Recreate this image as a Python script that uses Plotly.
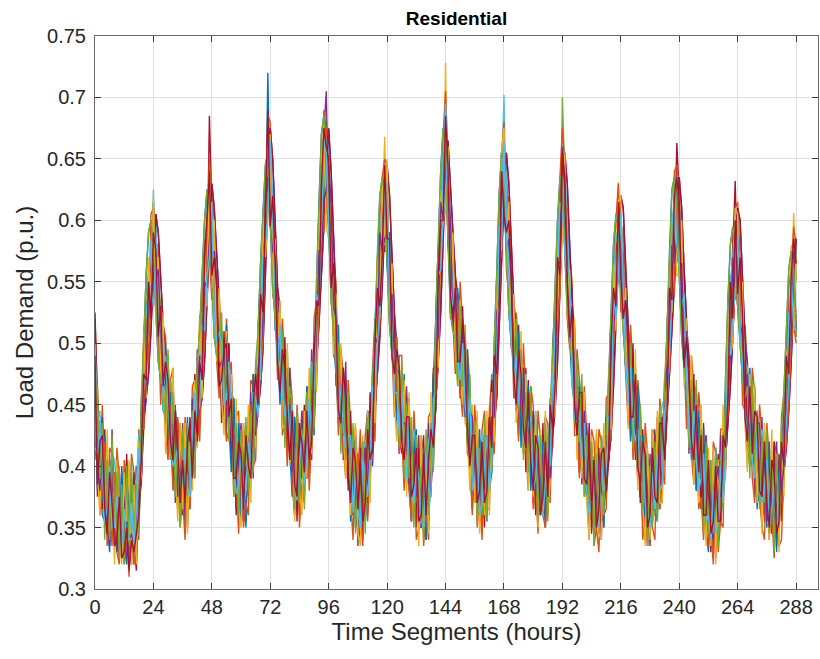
import plotly.graph_objects as go

# ---------------- data (load demand in thousandths of p.u.) ----------------
hours = list(range(289))
x_tick_values = list(range(0, 289, 24))
y_tick_values = [0.30, 0.35, 0.40, 0.45, 0.50, 0.55, 0.60, 0.65, 0.70, 0.75]
title_text = "Residential"
x_label = "Time Segments (hours)"
y_label = "Load Demand (p.u.)"

# central profile, one value per hour (24 per line + last hour)
center_profile = [
    450,420,410,400,385,380,375,385,370,365,370,365,360,365,360,360,365,370,390,420,460,500,530,555,
    570,560,530,500,480,460,450,440,430,415,400,395,395,390,395,405,420,435,450,470,500,540,580,600,
    585,550,520,500,480,475,470,460,440,420,405,395,390,390,395,410,420,435,450,470,510,550,600,645,
    630,590,550,510,490,470,460,450,435,420,405,400,400,405,410,420,430,450,470,510,560,610,640,645,
    630,580,540,500,470,455,450,440,420,400,390,385,380,380,385,390,400,420,440,470,520,560,590,610,
    600,560,520,490,470,450,440,430,420,410,400,395,390,385,380,380,385,390,410,440,480,530,580,630,
    655,620,570,540,520,510,500,490,470,450,430,410,400,395,390,390,395,400,410,430,460,500,560,610,
    640,610,570,530,500,480,470,460,450,440,430,420,410,400,395,390,390,395,400,420,450,490,540,590,
    625,610,570,530,500,470,450,440,430,415,400,390,385,380,380,380,385,395,410,430,470,520,560,585,
    575,550,510,480,465,455,445,425,405,390,385,380,380,385,390,395,405,415,435,470,520,565,590,600,
    590,550,510,480,455,445,435,425,410,400,390,380,375,370,370,370,375,385,400,430,480,520,550,570,
    565,540,500,470,445,435,430,420,410,405,395,390,385,380,380,375,375,380,390,420,460,500,530,550,
    540,
]

# scatter of the individual scenario curves around the central profile
scenario_01 = [
    30,-12,8,-20,15,-25,5,22,-8,-30,12,4,-18,26,-10,-35,8,18,-40,25,-30,35,-15,20,
    -25,40,-30,18,-10,22,-28,5,30,-15,-5,18,-22,10,-35,15,28,-12,20,-30,35,-20,40,-10,
    20,-35,25,-15,8,-20,30,-5,-25,12,-8,25,-30,5,15,-22,30,-10,-18,35,-40,20,-25,75,
    -30,25,-40,30,-12,20,-25,8,15,-30,22,-5,10,-28,35,-12,-20,15,30,-35,25,-30,20,-15,
    35,-20,28,-35,10,-15,25,-30,5,20,-12,-25,30,-8,15,-20,28,-10,-30,20,-45,35,-20,10,
    -15,30,-25,20,-30,12,-8,25,-20,5,30,-15,-28,18,-5,22,-35,10,25,-30,40,-25,30,-20,
    25,-40,30,-20,15,-25,10,-5,28,-30,20,-12,-20,30,-10,15,-25,8,20,-35,30,-45,25,-30,
    -20,35,-30,25,-15,5,22,-28,12,-10,30,-25,15,-5,-30,20,-12,28,-20,35,-25,30,-40,20,
    30,-25,40,-20,10,-30,15,20,-15,-8,25,-30,10,-22,28,-5,-18,30,-10,-25,40,-30,20,-35,
    -10,20,-35,25,-20,15,-5,-28,30,-12,8,22,-30,15,-20,28,-8,-15,25,-30,35,-20,28,-25,
    25,-30,20,-15,30,-20,-8,15,-25,30,-12,5,-28,20,-5,25,-30,12,-20,30,-35,25,-20,15,
    -20,30,-25,35,-10,20,-28,8,-15,25,-30,12,20,-22,-5,30,-18,10,-25,35,-30,20,-25,-10,
    15,
]
scenario_02 = [
    70,40,-15,10,-25,18,-5,30,-20,12,-32,20,8,-15,25,-20,5,-28,15,-35,20,-25,30,-40,
    10,-20,35,-25,15,30,-10,-20,12,25,-18,5,-30,20,8,-25,15,-30,28,-15,-25,30,-35,25,
    -30,20,-10,30,-25,10,18,-15,-30,22,15,-10,25,-20,-8,30,-15,20,-28,-20,25,-30,35,-20,
    25,-15,30,-25,20,-8,-30,15,25,-20,10,-25,30,5,-15,-22,18,-30,-10,25,-35,30,-25,35,
    -20,30,-15,25,-25,18,5,-20,28,-12,-30,15,20,-25,10,-5,-28,22,15,-35,30,-20,25,-30,
    20,-30,35,-10,15,-20,28,-12,10,-25,5,20,-15,30,-22,-8,25,-30,15,20,-35,30,-40,25,
    -35,20,-15,30,-25,10,-20,25,-12,18,-28,30,5,-15,25,-30,12,-20,28,15,-25,35,-30,20,
    30,-20,25,-35,20,-15,8,30,-25,15,-5,-20,28,-12,22,-30,10,-15,25,-28,-20,35,-25,30,
    -25,35,-20,15,-30,25,-10,-15,20,30,-25,10,-20,28,-15,5,25,-30,15,-10,-30,25,-35,20,
    20,-25,30,-15,10,-28,25,15,-20,-10,28,-22,12,-30,20,-8,15,25,-30,-20,30,-35,20,-25,
    -15,28,-30,25,-20,10,25,-15,-22,18,5,-28,30,-12,15,-25,20,-8,28,-25,30,-20,35,40,
    25,-20,30,-15,20,-25,10,-30,25,-5,18,-22,-10,28,-20,15,-28,25,-12,-30,25,-35,30,-20,
    -25,
]
scenario_03 = [
    -20,25,-30,12,5,-18,28,-10,20,-25,15,-5,30,-20,10,25,-15,-30,20,-10,-35,15,25,-20,
    30,-15,10,25,-30,15,20,-25,-10,28,-20,12,20,-30,15,-10,25,-20,-15,28,-25,20,-30,30,
    15,25,-20,-10,30,-22,8,25,-18,-30,20,-12,28,-5,-25,15,-8,25,-30,20,-15,35,-30,25,
    -20,30,-15,20,25,-30,15,-10,-25,20,-8,30,-20,12,-28,25,10,-15,-25,20,30,-25,35,-30,
    20,-25,15,30,-20,-10,25,-28,15,10,-20,28,-12,-25,30,-15,5,-22,25,-20,25,-30,20,58,
    -25,20,-30,15,25,-15,-22,20,-8,30,-25,10,15,-28,22,-10,-20,28,-5,-25,30,-20,25,-35,
    73,-25,20,-30,10,25,-15,-20,30,-10,15,-28,22,-5,-20,28,-15,25,-30,10,-25,30,-20,35,
    -25,30,-15,20,-28,12,25,-20,-8,30,-22,15,-10,25,-30,18,-5,-22,28,-15,20,-30,35,-25,
    20,-30,25,-20,15,25,-25,-8,20,-15,30,-10,-22,15,28,-20,10,-25,22,-30,25,-20,30,46,
    -30,15,-20,30,-12,-25,20,10,-28,25,-15,20,-5,-30,22,15,-20,28,-10,-25,30,-15,25,-30,
    25,-25,15,-30,20,15,-20,28,-10,-25,20,-15,30,-8,-20,25,10,-28,20,-15,-30,25,-20,30,
    -15,25,-35,20,-25,30,-10,15,-20,28,-12,-25,20,10,-30,22,-8,25,-20,15,-25,30,-20,56,
    10,
]
scenario_04 = [
    15,-30,20,-10,-25,30,-15,8,25,-20,-10,28,-22,15,-30,12,20,-25,10,-30,25,-20,15,-25,
    -30,20,-25,-15,25,-20,10,28,-25,15,20,-15,-28,22,10,-20,-25,30,-10,20,-30,25,-20,-30,
    25,-10,-30,22,-15,28,-20,10,30,-25,-12,20,-5,-28,25,-15,20,15,-30,25,-35,30,-25,-25,
    20,-30,15,-25,30,10,-20,-15,25,-8,-22,30,-15,20,-5,-28,25,-12,20,-30,20,-25,30,60,
    -25,25,-20,15,-30,20,-12,25,-20,-28,15,-10,25,-18,-25,30,-15,12,-20,25,-30,20,-35,25,
    30,-20,15,-30,20,-10,25,-25,15,-20,-12,28,-8,-22,30,-15,10,-28,20,-15,30,-35,20,-25,
    -20,30,-28,15,-15,30,-25,10,-20,25,-8,-22,28,-15,12,-30,25,-10,-25,20,-30,25,-35,-20,
    25,-25,20,-10,30,-20,-12,25,-28,10,20,-30,15,-18,25,-10,-28,20,-15,30,-35,20,-25,35,
    -30,20,-15,30,-20,-10,28,-25,12,20,-30,15,-10,-25,20,-28,15,30,-20,25,-25,30,-20,-25,
    25,-30,20,-10,-25,28,-15,20,-30,15,-5,-20,25,-12,30,-25,-8,20,-28,25,-30,20,-25,25,
    -20,20,-28,-10,25,-30,15,-20,28,-8,-25,20,-15,30,-20,10,-25,28,-10,-20,25,-30,28,-30,
    30,-30,20,-25,15,-10,25,-20,-28,15,25,-20,-8,-25,30,-15,20,-30,15,25,-35,25,-30,-20,
    -15,
]
scenario_05 = [
    -15,20,25,-30,10,-20,30,-25,5,20,-28,15,-10,-22,28,-8,-25,30,-10,15,-25,30,-30,25,
    25,-25,20,30,-20,-15,25,-10,-28,20,10,-30,15,-8,25,-25,-10,20,-28,-10,20,-25,30,-35,
    -25,30,-15,25,-28,15,-10,-25,20,30,-15,-28,12,25,-20,10,-30,-15,25,-25,30,-20,-30,30,
    30,-20,25,10,-30,15,-25,28,-10,-20,25,-12,-25,18,20,-30,8,25,-20,15,-30,25,-20,-25,
    -15,20,-30,-20,25,-28,15,10,-25,28,-10,-20,30,-15,-8,25,-25,15,28,-30,20,-25,30,-30,
    25,-25,20,25,-15,28,-20,-10,25,-30,15,-15,-25,20,10,-25,28,-20,-15,25,-30,25,-20,30,
    -25,25,-20,-25,30,-15,20,-28,10,25,-22,-10,20,-30,15,25,-20,-12,30,-25,25,-30,30,-25,
    20,-30,30,-20,10,25,-28,15,-15,-25,20,-10,30,-25,-10,28,-15,22,-30,-10,30,-25,20,-30,
    75,25,-30,10,-25,20,-10,30,-20,-15,28,-25,15,-10,-22,30,-20,10,-15,30,-35,25,-25,25,
    -20,30,-15,25,20,-20,-28,15,25,-10,-25,30,-15,20,-25,-10,28,-20,15,-28,25,-20,-30,30,
    30,-20,25,-25,-15,28,-10,-25,15,25,-30,10,20,-25,28,-15,-20,25,-30,20,-20,30,-30,-20,
    -25,20,-20,30,-30,15,20,-25,10,-30,25,-15,28,-10,-25,20,25,-20,-28,15,30,-25,25,-30,
    20,
]
scenario_06 = [
    10,35,-25,20,-15,30,-20,-10,25,-25,20,-8,-28,15,25,-20,-10,28,-20,30,-20,-30,35,-15,
    55,-30,15,-20,25,-10,-25,20,15,-30,25,-15,10,-25,20,30,-20,-10,25,-25,30,-30,20,25,
    -20,15,30,-25,10,-15,25,-20,-10,28,-25,15,-20,30,-10,-28,20,25,-20,-15,35,-25,25,-30,
    20,-25,-15,30,-20,25,-10,-25,28,10,-20,25,-28,-5,20,30,-22,-15,25,-20,-25,35,-30,20,
    -30,20,25,-20,15,-25,30,-15,-20,25,-10,-28,20,15,-25,10,-20,30,-15,-25,30,-20,35,-20,
    25,-15,-25,30,-20,20,-15,25,-28,10,20,-25,25,-10,-28,15,20,-25,-10,30,-20,-30,25,30,
    -30,20,25,-15,-20,25,-30,15,20,-25,10,25,-20,-28,15,-10,30,-20,-15,25,-30,30,-25,20,
    62,-20,-25,30,-15,-20,25,-10,25,-30,15,-20,-25,20,30,-25,10,-20,25,-15,-30,25,30,-20,
    -25,30,20,-30,25,-15,-20,28,-25,15,-10,25,20,-30,-10,25,-25,15,-20,20,30,-25,-30,20,
    20,-20,-30,25,-15,30,-10,-25,20,15,-30,-8,25,-20,-15,30,-25,-10,20,25,-25,-20,30,-35,
    -20,25,-15,30,-25,-10,20,25,-20,-30,15,25,-10,-25,20,-20,15,-30,25,-15,25,-25,-15,25,
    20,-30,25,-10,25,-20,-15,30,-25,10,-20,30,-25,15,25,-30,-10,20,-15,-25,20,-20,35,25,
    30,
]
scenario_07 = [
    75,20,-30,-15,25,-20,15,-30,20,-10,25,-28,15,-20,-30,20,-25,-55,-15,25,-25,20,-35,30,
    -30,25,-20,-30,20,15,-25,30,-15,-25,20,-10,25,-28,-15,25,-20,15,-30,25,-20,35,-25,85,
    25,-25,20,15,-30,25,-15,20,-25,-10,30,-20,-15,25,-30,15,25,-20,10,-30,25,-35,30,-35,
    -25,20,30,-20,25,-30,15,-20,-10,28,-25,-15,25,-25,10,20,-30,15,-25,25,-30,20,-35,30,
    25,-30,-20,25,-15,-25,30,-20,15,-15,28,-25,-10,-30,20,-20,25,-25,30,15,-35,-25,25,-35,
    -25,30,-20,-25,30,-25,15,-30,25,-20,-30,20,10,-25,25,-20,15,25,-30,-25,25,30,-30,20,
    30,-35,-20,25,-30,20,15,-30,-25,20,-15,28,-30,20,-25,-15,25,-30,10,25,-30,-20,30,-30,
    -30,25,-25,-20,30,-28,20,-15,-25,25,-20,15,-30,25,-15,-25,30,-20,-25,25,25,-30,-20,30,
    25,-30,25,30,-25,-20,25,-30,20,-25,15,-20,-30,25,-20,10,-30,-20,25,-25,-20,30,25,-30,
    -25,25,-30,-20,30,-25,20,25,-30,-20,25,-30,15,25,-30,-20,25,-30,-15,30,-30,25,-20,63,
    30,-25,30,-30,-20,25,-30,-15,30,-20,-25,20,-30,25,-25,30,-20,-25,20,-30,30,-25,25,62,
    -30,25,-25,20,-30,-20,30,-30,20,-25,15,-30,25,-20,-30,25,-25,30,-20,-30,25,30,-30,30,
    -30,
]
scenario_08 = [
    -35,-10,20,5,-30,-15,25,-35,-20,10,-15,-30,5,-25,-20,10,-30,-5,25,-20,10,-25,20,-10,
    -40,10,-15,25,-25,30,5,-20,-30,-10,15,-20,-5,25,-15,-30,10,25,-10,-20,15,-30,-25,-30,
    30,-30,-20,10,20,-25,-15,25,5,-20,-28,-10,20,-25,-15,10,-20,25,5,-30,-25,20,-20,-40,
    35,10,-20,-30,25,-10,-20,5,-15,30,-20,-28,5,20,-25,-15,25,-20,-5,30,-30,-20,25,10,
    -35,-20,15,25,-30,10,-20,-25,5,25,-28,10,-15,-30,20,5,-25,-15,25,-10,-20,-35,-25,15,
    30,-25,-10,-30,-10,-25,20,-15,-30,25,-10,-25,15,5,-25,-30,25,-10,-35,15,-20,25,-20,-30,
    -30,30,-25,-10,20,-25,-30,10,-20,-15,25,-30,-10,20,-30,-20,5,25,-30,-25,20,-20,35,-35,
    25,-20,-15,-30,-25,10,-20,25,-30,-20,5,20,-30,-10,25,-25,-30,-10,20,-20,25,-30,20,25,
    -20,-35,-10,25,-20,-30,-15,5,-25,20,-20,-30,-10,15,-25,-30,20,-15,-25,10,-30,20,-40,-30,
    30,-10,-25,-30,15,-20,-25,5,-20,25,-15,-25,-30,10,-25,15,-25,-30,10,-20,-30,-30,30,-20,
    -25,-20,30,-10,-25,-30,10,-20,-30,-10,20,-25,-15,-30,10,-25,-20,15,-30,-25,15,-30,-25,-30,
    25,-30,-15,-25,-20,10,-25,-30,15,-20,-25,-10,20,-30,-15,10,-25,-20,25,-20,-25,-30,25,-35,
    -30,
]
scenario_09 = [
    50,15,35,-5,30,20,-10,25,35,10,-5,30,20,5,35,-10,25,15,35,10,-20,25,10,30,
    -15,35,20,-10,30,25,35,10,20,30,-5,25,35,15,-10,30,20,5,35,20,10,-15,30,20,
    -10,30,15,25,-15,30,25,-5,20,35,10,25,-5,30,20,25,-10,35,15,25,-20,15,20,15,
    25,30,10,-20,35,15,25,30,-5,20,35,10,25,-10,30,20,15,35,-5,25,15,-20,30,20,
    30,-10,35,20,15,30,-5,25,30,10,20,35,-10,25,15,30,20,-5,35,20,-10,30,25,30,
    -20,25,30,10,35,20,-5,30,25,15,-10,35,20,30,10,25,-5,30,20,35,10,25,-15,25,
    40,20,35,-10,25,30,15,-5,35,20,25,10,30,-5,25,35,20,15,-10,30,25,-20,30,10,
    30,20,-15,35,25,10,30,-5,20,35,15,25,-10,30,20,10,35,25,-5,30,-15,25,30,20,
    -15,25,35,10,30,-5,25,20,35,15,-10,30,25,10,35,20,-5,30,15,35,-15,25,30,-10,
    30,15,25,35,-10,25,30,15,-5,35,20,25,10,30,15,-5,25,35,20,15,-20,30,25,15,
    20,35,-10,25,30,15,20,35,-5,25,30,10,25,35,15,-10,30,20,25,10,-15,30,20,35,
    -10,30,25,15,35,20,-5,25,30,15,35,10,25,-5,30,20,35,15,-10,25,-20,25,-15,30,
    20,
]
scenario_10 = [
    -5,-25,10,-35,-15,20,-30,-20,5,-35,-10,15,-25,-30,5,-20,-35,-15,10,-25,-20,5,-30,-25,
    -20,-30,-10,15,-25,-35,5,-20,-30,-15,10,-35,-20,5,-30,-15,-25,10,-35,-20,5,-30,-25,10,
    -35,-10,-25,5,-30,-20,-35,15,-15,-25,-30,5,-20,-35,-10,-25,5,-30,-20,15,-35,-25,-30,-15,
    -25,5,-30,-20,-10,-35,5,-25,-15,-30,10,-20,-35,-10,-25,5,-30,-20,-15,-35,-25,5,-30,-20,
    -10,-35,-20,5,-30,-25,-10,-35,15,-20,-30,-15,-25,10,-35,-20,-10,-30,5,-25,-15,-30,-20,-25,
    -30,-15,-35,5,-20,-30,-10,-25,-35,5,-20,-30,-15,-25,10,-35,-20,-30,5,-25,-20,-35,-10,-30,
    -25,-35,5,-20,-30,-15,-25,10,-35,-20,-10,-30,-25,5,-35,-15,-25,-10,-30,15,-20,-30,-25,-15,
    -35,-10,-30,-20,5,-25,-35,-15,-20,10,-30,-25,-10,-35,5,-20,-30,-15,-25,5,-35,-20,-30,-10,
    -20,-25,-35,-15,-10,-30,5,-20,-35,-25,10,-15,-30,-20,-35,5,-25,-10,-30,-20,-15,-35,-25,-20,
    -30,5,-25,-35,-15,-20,-30,10,-25,-35,-15,-20,5,-30,-25,-35,-10,-20,-30,5,-25,-35,-20,-30,
    -15,-30,-20,5,-35,-25,-10,-30,-20,-35,5,-25,-15,-30,-10,-20,-35,-25,5,-30,-20,-15,-30,-20,
    -25,-20,-35,-10,-30,5,-25,-15,-35,-20,-10,-30,-25,5,-35,-20,-30,-15,-25,-35,-10,-20,-30,-25,
    -20,
]
scenario_11 = [
    20,-20,-30,15,-10,-30,-40,10,-20,-35,-15,-25,-10,-40,-20,-15,-30,-10,-25,10,-15,-35,20,-30,
    -25,-10,30,15,-20,10,25,-15,5,20,-25,-5,15,-20,10,-30,5,-20,15,20,-15,10,-35,-15,
    -15,25,35,-20,5,15,-10,30,-15,5,-25,10,30,-10,5,-20,15,-5,-25,10,-20,-30,15,-10,
    -35,-15,20,-10,15,25,5,-20,15,-25,10,20,-10,25,-20,5,-15,25,-10,-5,15,-35,-25,-20,
    15,35,-10,20,-15,10,-25,15,-10,20,5,-20,15,-25,10,25,-20,5,-15,35,-20,30,-15,-25,
    -10,-30,20,-15,10,25,-20,5,15,-25,20,-5,30,-15,5,-20,25,10,-30,-10,15,-25,35,-30,
    -20,15,30,-30,20,-5,-15,20,5,-20,15,30,-10,5,-25,20,-15,25,-5,10,-20,25,-25,30,
    -10,-35,15,20,-20,30,10,-15,25,-20,-10,25,5,-25,15,-20,20,-25,10,-30,15,-15,25,-25,
    35,15,-20,-30,20,5,-25,15,-10,30,-20,-25,20,10,-15,25,-5,-20,15,-25,20,-10,-20,-30,
    15,-20,25,10,-30,15,5,-25,20,-15,30,-10,-20,25,-5,-25,15,-30,25,10,-30,15,-25,-15,
    -30,15,-20,30,10,-20,25,5,-15,20,-20,30,-25,10,-30,15,25,-10,-20,25,-25,-30,20,-25,
    20,-35,15,-20,30,-25,5,-15,25,30,-20,15,-30,-15,20,-30,10,25,-10,-20,-25,-10,-25,25,
    25,
]
scenario_12 = [
    -25,-15,25,-35,20,10,-15,25,-5,-15,30,-25,-20,10,-15,25,-10,20,-30,35,-10,40,25,-25,
    -15,30,25,-20,35,-10,20,30,-5,10,25,-10,30,5,-20,20,25,-15,10,30,25,-15,35,-20,
    15,-20,30,25,-10,30,5,20,-15,35,10,-15,25,30,-10,15,25,-5,30,20,-15,40,-10,20,
    -15,35,-25,15,30,5,25,-20,30,15,-5,25,10,-15,35,25,-10,20,-15,30,-20,30,25,-40,
    30,-15,25,-25,20,30,-10,15,25,-20,30,5,-20,25,10,30,-15,20,35,-10,25,-15,30,20,
    -25,15,30,-20,25,-10,30,15,-15,25,20,-5,30,-20,25,10,-15,30,-20,35,-15,20,-25,35,
    15,-30,25,30,-15,20,25,-10,30,-5,25,15,-15,30,20,-20,25,10,-10,30,-20,25,30,-10,
    25,-15,35,-25,20,15,-20,30,10,-5,25,30,-15,20,-10,25,30,-15,20,15,-20,30,25,-20,
    30,20,-25,35,-15,25,10,-20,30,25,-10,20,30,-15,25,-5,20,30,-10,25,-20,35,-20,-30,
    15,-25,30,20,-15,30,-10,25,15,-20,30,10,-25,30,20,-10,25,-20,30,15,-25,20,35,-20,
    -20,30,-10,25,30,-15,20,30,-5,25,15,-20,30,25,-15,20,30,-10,25,-20,35,-15,20,-35,
    35,-20,30,25,-15,20,30,-10,25,15,-20,30,20,-15,30,-5,25,20,-20,30,-20,-20,20,-30,
    35,
]
scenario_13 = [
    -30,10,-20,-40,-30,15,-35,-20,10,-30,-25,-40,20,-10,-35,-25,-10,-40,-35,-25,30,-15,-40,-20,
    45,-20,-30,10,-35,-20,-15,-30,25,-20,-35,-10,-25,-35,15,-25,-30,-20,-10,-25,-35,10,-30,-20,
    -40,-15,-25,-35,15,-30,-20,-10,-35,-25,10,-30,-35,-20,5,-30,-25,-35,-20,-10,-40,-15,-25,30,
    -15,-35,-20,-25,10,-30,-35,-15,-25,-30,-10,-35,-20,-25,10,-30,-35,-20,-15,-25,-40,-25,-30,35,
    -20,-10,-35,-25,-30,-20,-10,-35,-30,-25,5,-35,-20,-30,-15,-35,-25,-20,10,-30,-25,-40,-30,-10,
    -35,-25,-15,-30,-20,-35,-25,-10,-30,-25,-35,-15,-20,-35,-30,-10,-25,-35,-20,-15,-35,-25,-45,-20,
    -10,-25,-35,-20,-30,-10,-35,-25,-15,-30,-35,-25,-10,-30,-20,-35,-25,-15,-30,-35,-25,-40,-20,-30,
    -25,-35,-20,-30,-15,-35,-25,-20,-30,-10,-35,-25,-30,-15,-35,-20,-25,-35,-10,-30,-25,-35,-30,-15,
    -35,-15,-30,-25,-35,-20,-10,-30,-35,-25,-15,-30,-20,-35,-25,-10,-30,-35,-20,-25,-40,-20,-35,-25,
    -20,-35,-25,-15,-30,-35,-20,-30,-10,-35,-25,-20,-35,-15,-30,-25,-35,-20,-30,-10,-35,-25,-30,-15,
    -30,-20,-35,-25,-10,-30,-35,-25,-20,-30,-15,-35,-25,-30,-20,-35,-10,-30,-25,-35,-30,-20,-35,-25,
    -20,-35,-15,-30,-25,-35,-20,-10,-30,-35,-25,-15,-35,-20,-30,-25,-35,-10,-30,-25,-40,-35,-20,-15,
    -20,
]
scenario_14 = [
    40,-35,10,25,-20,-35,20,-15,-35,-25,5,-40,-30,-15,-45,-20,-35,-25,-30,-15,15,-30,20,-35,
    20,15,-25,30,-15,25,20,-20,-25,30,15,-25,10,-20,25,30,-30,10,-25,15,-30,30,20,40,
    -30,20,25,-35,-10,20,30,-20,15,-30,-15,25,20,-25,30,-10,-30,15,25,-20,30,-25,20,45,
    -35,30,15,-25,-30,25,20,-10,-30,25,-20,-25,30,15,-15,25,-25,-30,20,25,-30,15,35,15,
    20,-35,25,20,-25,-20,30,15,-25,-30,25,20,-15,25,-30,-20,30,-15,-25,30,25,-30,-20,35,
    -15,25,-30,-15,25,30,-20,-25,20,30,-25,-10,25,-30,-20,30,-25,15,20,-25,-30,25,20,-30,
    30,25,-30,-20,25,-25,-15,30,25,-20,-30,15,25,-25,-10,30,-25,-20,30,-15,30,-25,-35,30,
    -35,-20,30,25,-25,-30,25,15,-20,-25,30,-15,-30,25,20,-30,-15,25,-25,30,-20,-25,30,-35,
    30,25,-20,-25,30,-20,-25,20,30,-25,-15,30,-20,25,-30,-15,25,20,-30,-20,30,25,-30,30,
    -20,-30,25,30,-25,-15,30,-25,-20,30,25,-30,-20,30,-15,-25,30,20,-30,-25,25,-30,30,35,
    25,-20,-30,25,20,-25,-30,25,-15,25,-30,-20,30,-25,-15,30,-20,-30,25,-15,-25,30,-30,30,
    -25,30,20,-30,-25,30,-20,25,30,-25,-20,30,-15,-30,25,20,-30,-25,30,-20,30,-25,25,35,
    25,
]
# curves that rise and fall early
scenario_15 = [
    35,-40,15,-30,40,-20,-45,25,-35,10,-40,30,-25,-45,20,-35,15,-40,-10,30,40,55,60,45,
    10,-35,-45,-30,-15,40,-30,20,-45,35,-20,-40,30,-15,45,-35,10,-40,25,40,55,60,45,10,
    -35,-45,-30,-15,30,-40,45,-25,-45,35,-10,40,-35,20,-45,30,-20,40,-30,40,55,60,45,10,
    -35,-45,-30,-15,-40,25,-30,45,-20,-45,35,15,-40,30,-25,45,-35,10,-45,40,55,60,45,10,
    -35,-45,-30,-15,45,-30,20,-40,35,-45,10,40,-25,-40,30,-15,45,-35,20,40,55,60,45,10,
    -35,-45,-30,-15,-40,30,-20,45,-35,25,-45,15,40,-30,-10,35,-45,20,-25,30,40,55,60,45,
    10,-35,-45,-30,-15,35,-40,20,-30,45,-25,-45,30,-15,40,-35,15,-40,25,-20,40,55,60,45,
    10,-35,-45,-30,-15,-30,40,-45,25,-20,35,-40,10,45,-35,-15,30,-45,20,-25,40,55,60,45,
    10,-35,-45,-30,-15,45,-30,25,-40,35,-20,-45,30,-10,40,-35,20,-45,15,40,55,60,45,10,
    -35,-45,-30,-15,-45,25,-30,40,-20,35,-40,15,-35,45,-25,-40,30,-10,20,40,55,60,45,10,
    -35,-45,-30,-15,30,-40,20,-45,35,-15,40,-30,-45,25,-20,45,-35,10,-30,40,55,60,45,10,
    -35,-45,-30,-15,-30,45,-20,35,-45,15,-40,30,-25,40,-35,20,-45,25,-15,40,55,60,45,10,
    -35,
]
# curves that rise and fall late
scenario_16 = [
    -40,35,-25,40,-15,30,-35,45,-20,25,-45,35,-10,40,-30,20,-45,30,-20,-35,-25,-45,-55,-45,
    -15,45,60,50,35,-20,40,-35,25,-45,30,-15,40,-30,20,-40,35,-25,45,-25,-45,-55,-45,-15,
    45,60,50,35,-30,25,-45,40,-20,35,-40,15,45,-35,20,-25,40,-45,30,-25,-45,-55,-45,-15,
    45,60,50,35,20,-40,35,-30,45,-15,-45,30,-25,40,-35,25,-20,45,-40,-25,-45,-55,-45,-15,
    45,60,50,35,-35,30,-20,45,-40,25,-30,40,-45,20,35,-25,45,-15,-40,-25,-45,-55,-45,-15,
    45,60,50,35,30,-40,25,-35,45,-20,-45,35,-15,40,-30,20,-40,45,-25,35,-25,-45,-55,-45,
    -15,45,60,50,35,-40,25,-30,45,-20,35,-45,15,40,-35,-20,30,-45,25,-30,-25,-45,-55,-45,
    -15,45,60,50,35,35,-45,20,-30,40,-25,45,-40,15,-35,30,-20,45,-40,20,-25,-45,-55,-45,
    -15,45,60,50,35,-30,40,-45,25,-20,35,-40,30,-15,45,-35,20,-45,30,-25,-45,-55,-45,-15,
    45,60,50,35,25,-40,35,-25,45,-35,15,-45,30,-20,40,-30,20,-45,35,-25,-45,-55,-45,-15,
    45,60,50,35,-45,30,-20,40,-35,25,-40,45,-15,30,-45,20,-30,40,-25,-25,-45,-55,-45,-15,
    45,60,50,35,40,-30,25,-45,35,-20,45,-35,15,-40,30,-25,45,-30,20,-25,-45,-55,-45,-15,
    45,
]
scenario_17 = [
    45,-20,-50,30,-40,50,-35,10,-50,40,-25,-45,35,-10,45,-40,20,-50,30,-30,50,-45,40,-20,
    50,-45,40,-30,45,-50,25,-35,50,-20,-45,40,-30,45,-50,15,-40,35,-25,50,-45,30,-50,40,
    -40,50,-35,45,-25,-50,40,-20,35,-45,50,-30,-40,45,-15,40,-50,25,-35,45,-40,50,-30,-45,
    40,-50,35,-20,45,-40,-25,50,-35,30,-50,40,-20,-45,35,-30,50,-40,20,-50,45,-30,40,-50,
    -45,35,-50,40,-30,45,-20,-50,35,-40,25,50,-35,-45,40,-25,45,-50,30,-35,50,-40,45,-30,
    50,-30,45,-40,-50,35,-25,40,-45,50,-20,-40,35,-50,45,-30,20,-45,50,-35,40,-50,45,-25,
    -50,40,-35,50,-25,-45,35,-40,45,-20,-50,40,-30,50,-45,25,-35,45,-50,30,-40,50,-35,45,
    35,-50,45,-30,40,-45,-20,50,-40,35,-50,25,-35,45,-45,40,-25,50,-40,-30,45,-50,40,-35,
    -40,45,-50,30,-35,50,-45,20,-40,45,-30,-50,40,-25,50,-35,-45,40,-20,50,-40,45,-50,30,
    45,-40,35,-50,25,-30,50,-45,40,-20,-50,35,-40,45,-25,50,-35,-45,40,-30,50,-40,35,-45,
    -35,50,-45,40,-30,45,-50,25,-40,50,-20,-45,40,-35,45,-50,30,-25,50,-40,45,-30,-50,40,
    40,-45,50,-35,-50,40,-25,45,-40,30,-50,45,-20,-40,50,-35,25,-50,40,-45,35,-30,50,-40,
    30,
]
scenario_18 = [
    30,-45,20,-35,45,-25,-40,35,-15,40,-45,25,-30,45,-20,-40,30,-45,20,-30,-25,-45,-55,-45,
    -15,45,60,50,35,35,-40,20,-45,30,-25,40,-35,15,-45,35,-20,40,-30,-25,-45,-55,-45,-15,
    45,60,50,35,-45,35,-20,40,-30,25,-45,30,-15,45,-40,20,-35,40,-25,-25,-45,-55,-45,-15,
    45,60,50,35,40,-25,45,-40,20,-35,30,-45,35,-15,40,-30,25,-45,30,-25,-45,-55,-45,-15,
    45,60,50,35,-20,40,-45,30,-35,45,-25,20,-40,35,-45,25,-30,40,-20,-25,-45,-55,-45,-15,
    45,60,50,35,-45,25,-30,40,-20,45,-35,15,-40,30,-25,45,-45,20,-35,40,-25,-45,-55,-45,
    -15,45,60,50,35,30,-45,40,-20,35,-40,25,-30,45,-35,20,-45,30,-25,40,-25,-45,-55,-45,
    -15,45,60,50,35,-35,45,-25,30,-45,40,-20,35,-40,25,-30,45,-45,15,-35,-25,-45,-55,-45,
    -15,45,60,50,35,40,-35,25,-45,30,-20,45,-40,20,-30,35,-45,25,-35,-25,-45,-55,-45,-15,
    45,60,50,35,-30,45,-40,20,-35,40,-25,30,-45,35,-20,45,-40,25,-30,-25,-45,-55,-45,-15,
    45,60,50,35,35,-20,40,-45,25,-35,45,-30,20,-40,30,-45,35,-25,40,-25,-45,-55,-45,-15,
    45,60,50,35,-40,30,-25,45,-35,20,-45,40,-30,35,-20,45,-40,25,-35,-25,-45,-55,-45,-15,
    45,
]
scenario_19 = [
    -30,45,-20,35,-45,25,-35,40,-15,30,-45,20,-40,35,-25,45,-30,15,-45,35,40,55,60,45,
    10,-35,-45,-30,-15,-25,45,-35,30,-40,20,-45,35,-20,40,-30,25,-45,35,40,55,60,45,10,
    -35,-45,-30,-15,45,-25,35,-40,20,-45,30,-35,40,-20,45,-30,25,-40,35,40,55,60,45,10,
    -35,-45,-30,-15,-25,40,-45,30,-20,35,-40,45,-30,25,-45,40,-15,35,-40,40,55,60,45,10,
    -35,-45,-30,-15,30,-45,25,-35,40,-20,45,-40,15,-30,35,-45,40,-25,30,40,55,60,45,10,
    -35,-45,-30,-15,25,-35,45,-40,30,-20,40,-45,35,-25,20,-40,45,-30,25,-45,40,55,60,45,
    10,-35,-45,-30,-15,-45,30,-25,40,-35,45,-20,35,-40,25,-30,45,-45,20,-35,40,55,60,45,
    10,-35,-45,-30,-15,40,-25,35,-45,20,-35,45,-30,25,-40,35,-20,40,-45,30,40,55,60,45,
    10,-35,-45,-30,-15,-35,40,-20,45,-40,25,-30,35,-45,30,-25,40,-35,20,40,55,60,45,10,
    -35,-45,-30,-15,35,-40,25,-30,45,-25,40,-45,20,-35,30,-40,45,-20,35,40,55,60,45,10,
    -35,-45,-30,-15,-40,25,-35,45,-20,30,-45,40,-30,35,-25,45,-40,20,-35,40,55,60,45,10,
    -35,-45,-30,-15,20,-45,40,-25,35,-40,30,-20,45,-35,25,-45,35,-30,40,40,55,60,45,10,
    -35,
]
scenario_20 = [
    -45,20,-50,-20,35,-45,-10,-50,25,-35,-50,15,-40,-20,-50,30,-45,-25,-50,10,-30,20,-45,-15,
    30,-40,-15,-50,20,-35,-45,10,-50,-25,35,-45,-20,-50,25,-40,-10,-45,30,-50,-20,-40,25,-30,
    -50,15,-35,-45,25,-20,-50,-30,35,-45,-15,-50,20,-40,-25,-50,30,-35,-45,15,-30,-50,10,-20,
    25,-50,-20,-40,30,-45,-15,-50,20,-35,-45,25,-50,-20,-40,35,-50,-25,15,-45,-30,20,-50,-25,
    -40,25,-50,-15,-45,30,-35,-50,20,-25,-50,35,-40,-20,-50,15,-45,-30,25,-50,-20,-45,30,-15,
    20,-45,-25,-50,35,-40,-15,-50,25,-30,-45,15,-50,-35,30,-45,-20,-50,20,-40,-25,-50,15,-35,
    -30,35,-50,-20,-45,25,-35,-50,15,-40,-25,-50,30,-45,-15,-50,25,-35,-45,20,-50,-30,25,-40,
    25,-50,-30,15,-45,-20,-50,30,-40,-25,-50,20,-45,-15,-50,35,-30,-45,-20,-50,25,-40,-25,-50,
    -20,30,-50,-35,20,-45,-25,-50,30,-40,-15,-50,25,-45,-30,-50,15,-35,-45,25,-50,-20,-40,20,
    -50,25,-35,-45,15,-50,-20,-40,30,-50,-25,-45,20,-35,-50,25,-40,-15,-50,30,-45,-25,-50,15,
    30,-45,-20,-50,25,-35,-50,15,-45,-25,-50,30,-40,-20,-50,20,-45,-30,-50,15,-40,-25,-45,-20,
    -35,20,-50,-25,-45,30,-40,-50,15,-30,-45,-50,25,-35,-20,-50,30,-45,-50,-25,-40,-50,-30,-35,
    -40,
]
scenario_21 = [
    30,45,-20,50,10,-35,40,25,-15,50,20,-30,45,15,-25,50,30,-20,40,-10,45,35,-20,50,
    40,20,50,-15,35,45,-25,30,50,-10,40,20,-30,50,25,-20,45,35,-15,50,30,45,-20,50,
    35,50,-20,40,25,-30,50,15,45,-25,35,50,-10,40,20,-35,50,30,-15,45,25,50,-25,40,
    50,-20,40,30,-30,50,20,-15,45,35,-25,50,15,40,-20,45,30,-35,50,25,40,-20,50,30,
    -25,45,30,50,-15,40,25,-30,50,35,-20,45,15,50,-25,35,45,-15,40,50,-20,35,45,40,
    45,-15,50,25,-30,40,50,-20,35,45,-25,50,20,-15,45,30,-30,50,35,-20,45,50,-25,40,
    50,30,-25,45,40,-20,50,25,-30,45,35,-15,50,20,-25,40,50,-20,35,45,-30,50,25,45,
    40,-25,50,35,-15,45,30,-30,50,20,-20,45,40,-25,50,30,-15,45,35,-20,50,40,-30,45,
    50,35,-20,40,50,-25,45,30,-15,50,25,-30,45,40,-20,50,35,-25,45,30,-15,50,40,45,
    -20,45,35,-30,50,25,-15,45,40,-25,50,30,-20,45,35,-30,50,20,-15,45,40,-25,50,45,
    35,-25,50,40,-20,45,30,-30,50,35,-15,45,25,-25,50,40,-20,45,30,-15,50,35,-25,40,
    50,30,-20,45,35,-25,50,40,-15,45,30,-30,50,25,-20,45,35,-25,50,40,-20,45,30,45,
    40,
]

# drawing order (colours follow the MATLAB colour order by position in this list)
scenarios = [scenario_01, scenario_02, scenario_03, scenario_04, scenario_05, scenario_06,
             scenario_07, scenario_13, scenario_21, scenario_10, scenario_16, scenario_12,
             scenario_09, scenario_18, scenario_15, scenario_20, scenario_17, scenario_11,
             scenario_19, scenario_08, scenario_14]

# MATLAB default colour order
line_colors = ["#0072BD", "#D95319", "#EDB120", "#7E2F8E", "#77AC30", "#4DBEEE", "#A2142F"]

for i, s in enumerate(scenarios):
    assert len(s) == len(hours), f"scenario {i+1} has {len(s)} values"
assert len(center_profile) == len(hours), f"profile has {len(center_profile)}"

# ---------------- figure ----------------
fig = go.Figure()
for i, dev in enumerate(scenarios):
    y = [(c + d) / 1000.0 for c, d in zip(center_profile, dev)]
    fig.add_trace(go.Scatter(
        x=hours, y=y, mode="lines",
        line=dict(color=line_colors[i % len(line_colors)], width=1.4),
        showlegend=False, hoverinfo="skip",
    ))

font_family = "Liberation Sans, Arial, Helvetica, sans-serif"
axis_common = dict(
    showline=True, linecolor="#6a6a6a", linewidth=1, mirror="ticks",
    ticks="inside", ticklen=6, tickcolor="#3a3a3a", tickwidth=1,
    showgrid=True, gridcolor="#e0e0e0", gridwidth=1, zeroline=False,
    tickfont=dict(family=font_family, size=20, color="#262626"),
)

fig.update_layout(
    width=820, height=659,
    margin=dict(l=95, r=2, t=36, b=70),
    paper_bgcolor="white", plot_bgcolor="white",
    title=dict(text=f"<b>{title_text}</b>", x=0.5, xref="paper",
               y=1 - 18 / 659, yref="container", yanchor="middle", xanchor="center",
               font=dict(family=font_family, size=19, color="black")),
    xaxis=dict(range=[0, 297], tickvals=x_tick_values,
               title=dict(text=x_label, standoff=2,
                          font=dict(family=font_family, size=24, color="#262626")),
               **axis_common),
    yaxis=dict(range=[0.3, 0.75], tickvals=y_tick_values,
               ticktext=[f"{v:g}" for v in y_tick_values],
               ticklabelstandoff=4,
               title=dict(text=y_label, standoff=6,
                          font=dict(family=font_family, size=24, color="#262626")),
               **axis_common),
)

fig.write_html("out.html")
